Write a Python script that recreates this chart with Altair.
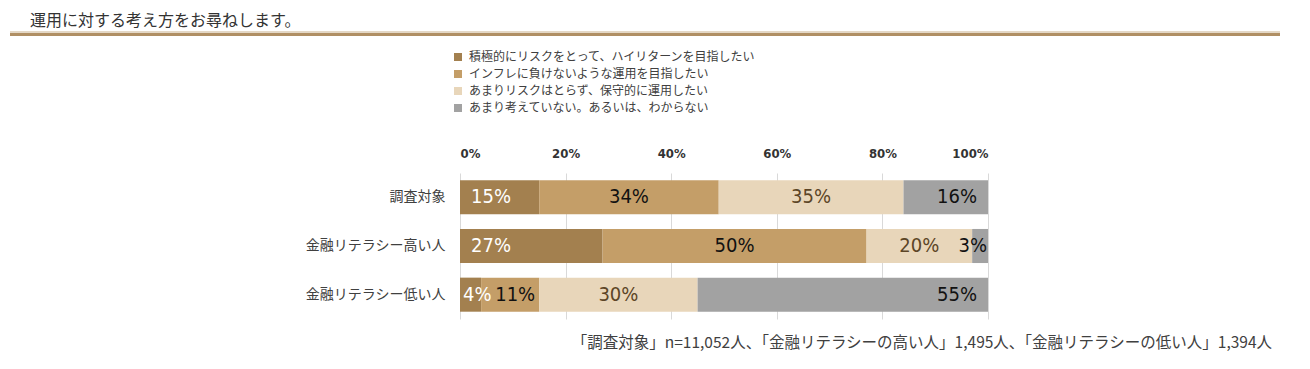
import altair as alt
import pandas as pd

title_text = "運用に対する考え方をお尋ねします。"
footnote_text = "「調査対象」n=11,052人、「金融リテラシーの高い人」1,495人、「金融リテラシーの低い人」1,394人"

categories = ["調査対象", "金融リテラシー高い人", "金融リテラシー低い人"]
series = [
    "積極的にリスクをとって、ハイリターンを目指したい",
    "インフレに負けないような運用を目指したい",
    "あまりリスクはとらず、保守的に運用したい",
    "あまり考えていない。あるいは、わからない",
]
values_total = [15, 34, 35, 16]
values_high = [27, 50, 20, 3]
values_low = [4, 11, 30, 55]

bar_colors = ["#a3804f", "#c49e68", "#e8d6ba", "#a2a2a2"]
label_colors = ["#ffffff", "#111111", "#5c4526", "#111111"]
tick_values = [0, 20, 40, 60, 80, 100]

rows = []
for cat, vals in zip(categories, [values_total, values_high, values_low]):
    s = 0
    for i, (ser, v) in enumerate(zip(series, vals)):
        pos = "first" if i == 0 else ("last" if i == len(vals) - 1 else "mid")
        rows.append(dict(cat=cat, ser=ser, val=v, start=s, end=s + v, mid=s + v / 2,
                         pos=pos, small=v < 8, narrow=v < 15, label=f"{v}%",
                         tcolor=label_colors[i]))
        s += v
df = pd.DataFrame(rows)

JP = "Noto Sans CJK JP"
NUM = "DejaVu Sans Condensed, Roboto Condensed, Liberation Sans Narrow, Roboto, sans-serif"

y_enc = alt.Y("cat:N", sort=categories,
              scale=alt.Scale(domain=categories, paddingInner=0.3, paddingOuter=0.15),
              axis=alt.Axis(title=None, ticks=False, domain=False, labelFont=JP,
                            labelFontSize=14, labelColor="#404040", labelPadding=15,
                            labelLimit=300))

bars = alt.Chart(df).mark_bar(strokeWidth=0).encode(
    x=alt.X("start:Q", scale=alt.Scale(domain=[0, 100]),
            axis=alt.Axis(orient="top", values=tick_values, labelExpr="datum.value + '%'",
                          title=None, ticks=False, domain=False, grid=True,
                          gridColor="#d9d9d9", gridWidth=1, labelFont=NUM,
                          labelFontSize=13, labelFontWeight="bold", labelColor="#333333",
                          labelPadding=13)),
    x2="end:Q",
    y=y_enc,
    color=alt.Color("ser:N", scale=alt.Scale(domain=series, range=bar_colors),
                    legend=alt.Legend(orient="none", legendX=-8, legendY=-122, title=None,
                                      symbolType="square", symbolSize=64,
                                      symbolStrokeWidth=0, labelFont=JP, labelFontSize=12,
                                      labelColor="#404040", rowPadding=5, labelOffset=5,
                                      padding=0, labelLimit=500, direction="vertical")),
)


def text_layer(cond, field, align, dx):
    return alt.Chart(df).transform_filter(cond).mark_text(
        font=NUM, fontSize=20, baseline="middle", align=align, dx=dx
    ).encode(
        x=alt.X(f"{field}:Q"),
        y=alt.Y("cat:N", sort=categories),
        text="label:N",
        color=alt.Color("tcolor:N", scale=None),
    )


texts = [
    text_layer("datum.pos == 'first' && !datum.small", "start", "left", 11),
    text_layer("datum.pos == 'first' && datum.small", "start", "left", 3),
    text_layer("datum.pos == 'mid' && !datum.narrow", "mid", "center", 0),
    text_layer("datum.pos == 'mid' && datum.narrow", "end", "right", -4),
    text_layer("datum.pos == 'last' && !datum.small", "end", "right", -11),
    text_layer("datum.pos == 'last' && datum.small", "end", "right", -1),
]

one = pd.DataFrame({"a": [0]})
line_light = alt.Chart(one).mark_rule(color="#e4d8c6", strokeWidth=2).encode(
    x=alt.value(-450), x2=alt.value(820), y=alt.value(-141))
line_dark = alt.Chart(one).mark_rule(color="#b08f64", strokeWidth=3).encode(
    x=alt.value(-450), x2=alt.value(820), y=alt.value(-138.5))
title = alt.Chart(one).mark_text(text=title_text, font=JP, fontSize=16, color="#333333",
                                 align="left", baseline="middle").encode(
    x=alt.value(-430), y=alt.value(-152))
footnote = alt.Chart(one).mark_text(text=footnote_text, font=JP, fontSize=15.5,
                                    color="#404040", align="right",
                                    baseline="middle").encode(
    x=alt.value(812), y=alt.value(170))

chart = alt.layer(bars, *texts, line_light, line_dark, title, footnote).properties(
    width=528, height=146,
    autosize=alt.AutoSizeParams(type="none"),
    padding={"left": 452, "top": 165, "right": 314, "bottom": 40},
).configure_view(stroke=None)

chart.save("out.html", embed_options={"renderer": "svg", "actions": False})
